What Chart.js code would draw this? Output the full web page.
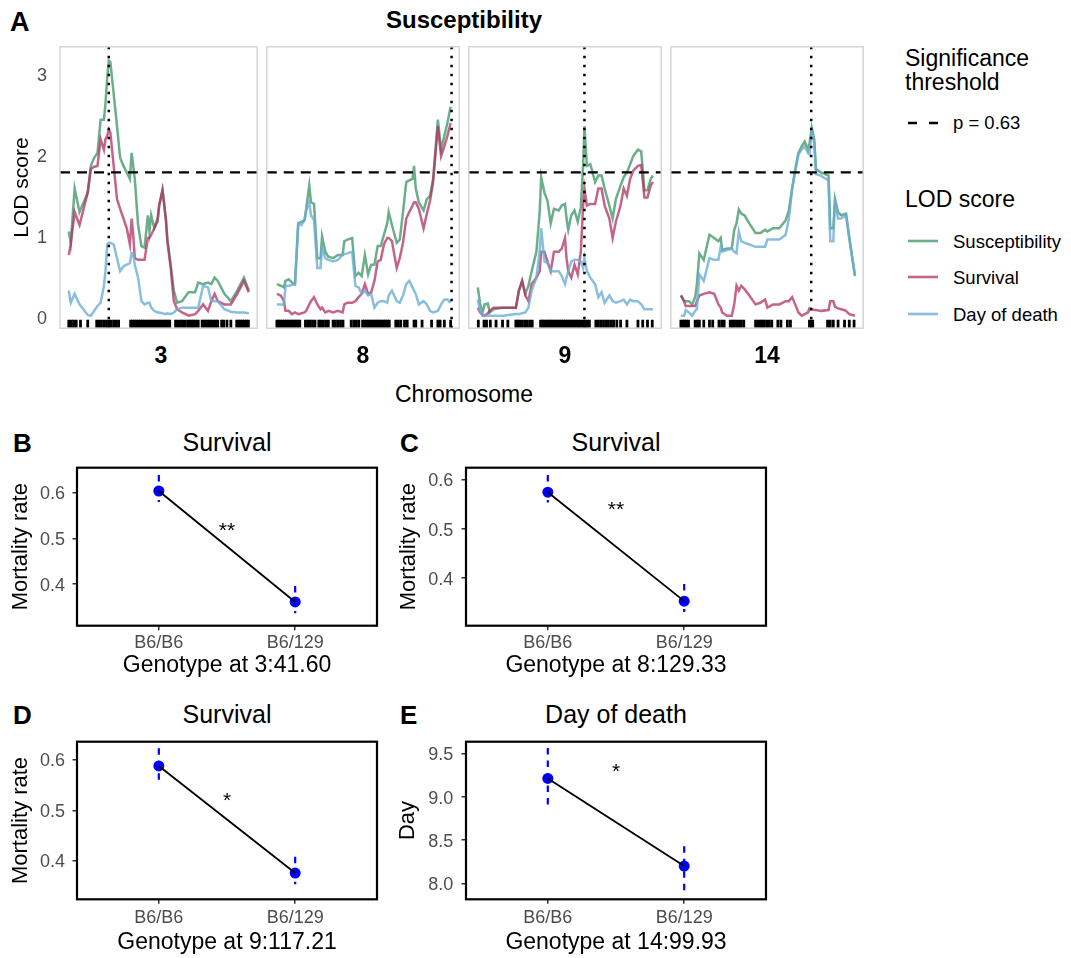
<!DOCTYPE html>
<html>
<head>
<meta charset="utf-8">
<script src="https://cdn.jsdelivr.net/npm/chart.js@4.4.1/dist/chart.umd.min.js"></script>
<style>
  body { margin: 0; background: #fff; }
  #fig { position: relative; width: 1071px; height: 958px; overflow: hidden;
         font-family: "Liberation Sans", Arial, Helvetica, sans-serif; color: #000; }
  #fig canvas { position: absolute; }
  .txt { position: absolute; white-space: nowrap; line-height: 1; }
  .key { position: absolute; }
</style>
</head>
<body>
<div id="fig"></div>
<script>
// ---- panel A: LOD profiles (position within chromosome, LOD) ----
const chromosomes = ['3', '8', '9', '14'];
const seriesNames = ['Susceptibility', 'Survival', 'Day of death'];
const threshold = 1.79;          // significance threshold, p = 0.63
const thresholdLabel = 'p = 0.63';
const peakPos = [20.5, 92.5, 56.2, 69.2];
const lodTicks = [0, 1, 2, 3];

const pos3  = [0,1,3,5.5,9.7,11.3,13,14.7,16.3,18,18.8,19.7,20.5,21.3,23,24.7,26.3,28,29.7,31.3,32.2,33,33.8,35.5,37.2,38.8,40.5,41.3,42.2,43.8,45.5,46.3,48,49.7,50.5,52.2,53.8,55.5,58,61.3,64.7,66.3,68.8,71.3,73,74.7,76.3,79.7,83,86.3,89.7,92.2];
const susc3 = [1.06,0.92,1.59,1.30,1.54,1.87,1.97,2.03,2.44,2.44,2.64,2.97,3.17,3.15,2.76,2.36,1.97,1.87,1.79,1.71,2.03,1.87,1.71,1.14,0.88,0.86,1.26,1.06,1.26,1.10,1.18,1.38,1.57,1.22,0.96,0.65,0.33,0.18,0.20,0.31,0.31,0.43,0.41,0.43,0.41,0.49,0.45,0.29,0.20,0.33,0.49,0.33];
const surv3 = [0.77,0.90,1.30,1.14,1.54,1.83,1.86,1.87,2.20,2.07,2.20,2.24,2.32,2.28,1.87,1.46,1.34,1.22,1.10,0.90,1.22,1.02,0.73,0.71,0.71,0.71,0.98,0.98,1.02,1.10,1.22,1.38,1.57,1.22,0.94,0.61,0.20,0.10,0.06,0.02,0.04,0.08,0.16,0.08,0.20,0.29,0.20,0.16,0.16,0.29,0.45,0.31];
const dod3  = [0.33,0.18,0.29,0.16,0.03,0.02,0.08,0.14,0.18,0.39,0.57,0.90,0.92,0.92,0.90,0.73,0.57,0.63,0.65,0.67,0.79,0.79,0.65,0.49,0.20,0.16,0.18,0.18,0.12,0.08,0.06,0.06,0.05,0.04,0.05,0.04,0.06,0.10,0.12,0.12,0.12,0.12,0.39,0.37,0.20,0.20,0.20,0.10,0.07,0.06,0.06,0.05];
const rug3  = [0,1.3,2.5,3.8,6,9.7,14.3,15.5,16.7,18,19.3,20.5,21.7,23,24.3,25.5,31.7,32.7,33.7,34.7,35.7,36.7,37.7,38.7,39.7,40.7,41.7,42.7,43.7,44.7,45.7,46.7,47.7,48.7,49.7,50.7,51.7,54.7,56,57.2,58.3,59.7,61,62,63,64,65,66.3,68.3,69.3,70.3,71.3,72.3,73.3,74.3,75.3,76.3,78.3,79.3,81,83,86,87,88,89,90,91,92];

const pos8  = [0.8,2.8,4.5,5.3,7,8.7,10.3,12,13.7,15.3,16.2,17.8,18.7,20.3,22,23.7,24.5,26.2,27.8,30.3,32.8,35.3,36.2,37.8,40.3,42,43.7,45.3,47,48.7,50.3,52,53.7,55.3,57,58.7,59.5,61.2,63.7,65.3,67,68.7,70.3,72,72.8,73.7,75.3,77.8,79.5,81.2,82.8,85.3,87,88.7,90.3,92];
const susc8 = [0.41,0.39,0.37,0.45,0.47,0.43,0.41,1.16,1.18,1.20,1.34,1.63,1.42,1.40,0.73,0.73,1.00,0.81,0.75,0.73,0.77,0.77,0.94,0.96,0.98,0.51,0.55,0.51,0.77,0.53,0.65,0.65,0.88,0.88,1.02,1.16,1.30,1.14,0.92,0.96,1.30,1.67,1.69,1.71,1.87,1.59,1.42,1.32,1.46,1.50,1.71,2.44,2.07,2.24,2.40,2.60];
const surv8 = [0.29,0.27,0.20,0.08,0.08,0.04,0.06,0.04,0.05,0.06,0.08,0.16,0.20,0.25,0.16,0.10,0.12,0.06,0.08,0.06,0.08,0.06,0.16,0.18,0.18,0.20,0.25,0.29,0.41,0.29,0.31,0.45,0.69,0.71,0.90,0.98,0.98,0.94,0.61,0.73,0.92,1.22,1.30,1.38,1.42,1.42,1.34,1.10,1.28,1.44,1.67,2.36,1.99,2.11,2.24,2.40];
const dod8  = [0.16,0.16,0.16,0.39,0.39,0.40,0.41,1.16,1.14,1.20,1.32,1.42,1.26,1.20,0.61,0.61,0.86,0.73,0.71,0.69,0.71,0.77,0.78,0.79,0.81,0.39,0.37,0.29,0.33,0.27,0.29,0.12,0.18,0.20,0.20,0.18,0.27,0.33,0.20,0.18,0.27,0.41,0.45,0.37,0.33,0.29,0.16,0.20,0.16,0.08,0.06,0.08,0.16,0.22,0.22,0.18];
const rug8  = [0.8,1.8,2.8,3.8,4.8,5.8,6.8,7.8,8.8,9.8,10.8,11.8,12.8,15.8,17,18.2,19.5,20.8,22.8,23.8,25.2,26.5,27.8,30.3,31.5,32.8,34.2,35.5,39.8,41.2,42.5,43.8,45.8,46.8,47.8,48.8,49.8,50.8,51.8,52.8,53.8,54.8,55.8,56.8,57.8,58.8,59.8,63.2,64.5,65.8,67.8,69.2,72.8,73.7,77,82,85.3,86.5,88.7,92];

const pos9  = [0.2,1.5,2.7,3.8,5.5,6.5,8.5,13.5,20.2,21.8,23.5,25.2,26.8,28.5,31,32.7,33.5,35.2,36.8,38.5,40.2,42.7,44.3,46,46.8,47.7,49.3,51,52.7,54.3,55.5,56.2,57.5,59.3,61.8,63.5,65.2,66.8,69.3,71,72.7,75.2,76.8,78.5,80.2,81.8,84.3,86,87.7,89.3,91,92.2];
const susc9 = [0.37,0.16,0.06,0.16,0.17,0.06,0.10,0.12,0.12,0.33,0.45,0.29,0.39,0.57,0.81,1.30,1.73,1.54,1.44,1.16,1.34,1.32,1.38,1.40,1.22,1.08,1.26,1.32,1.18,1.36,1.87,2.36,1.87,1.89,1.67,1.75,1.75,1.59,1.38,1.22,1.46,1.63,1.73,1.79,1.89,1.99,2.07,2.05,1.57,1.57,1.71,1.75];
const surv9 = [0.12,0.06,0.03,0.02,0.05,0.08,0.12,0.12,0.12,0.33,0.45,0.27,0.20,0.41,0.49,0.57,0.81,0.81,0.69,0.57,0.81,0.81,0.85,0.98,0.73,0.57,0.49,0.65,0.53,0.81,1.38,1.59,1.38,1.40,1.40,1.59,1.59,1.38,1.22,0.98,1.18,1.38,1.59,1.50,1.71,1.81,1.87,1.88,1.48,1.48,1.63,1.67];
const dod9  = [0.22,0.08,0.02,0.02,0.02,0.02,0.02,0.02,0.04,0.04,0.05,0.06,0.12,0.33,0.49,0.81,1.10,0.69,0.67,0.57,0.57,0.57,0.51,0.41,0.49,0.57,0.69,0.71,0.71,0.69,0.61,0.73,0.57,0.49,0.41,0.25,0.31,0.18,0.27,0.20,0.18,0.20,0.22,0.16,0.22,0.20,0.20,0.16,0.10,0.10,0.10,0.10];
const rug9  = [0.5,3.5,4.8,6.8,9.8,13.2,16,20.2,21.2,22.2,23.5,24.8,26.2,27.5,28.8,33.2,34.2,35.2,36.2,37.2,38.2,39.2,40.2,41.2,42.2,43.2,44.2,45.2,46.2,47.2,48.2,49.2,50.2,51.2,52.2,53.2,54.2,55.5,56.5,57.7,58.8,62.2,63.5,64.8,66.2,67.5,68.8,70.2,71.5,73.2,75.2,78.5,84.3,86.8,89.3,91.8];

const pos14  = [0.8,2.5,3.3,5,6.7,8.3,9.2,10.5,12.8,15.8,18.3,20.5,21.7,22.5,25,27.5,28.8,30,31.2,32.5,34.2,36.7,40,42.5,45,46.2,49.2,52.5,55.8,57.5,59.2,60.8,62.5,64.2,65.8,67.5,68.3,69.5,70.8,71.7,74.2,78.3,79.2,80.8,81.7,83.3,85,87.5,89.2,92.2];
const susc14 = [0.27,0.20,0.20,0.20,0.16,0.25,0.41,0.79,0.71,1.02,0.98,0.94,0.98,0.83,0.85,0.85,1.08,1.16,1.33,1.28,1.26,1.16,1.04,1.04,1.08,1.06,1.10,1.10,1.20,1.32,1.59,1.83,2.03,2.11,2.17,2.07,2.15,2.34,2.20,1.83,1.79,1.75,1.10,1.10,1.46,1.30,1.26,1.28,0.98,0.51];
const surv14 = [0.27,0.20,0.14,0.14,0.14,0.14,0.20,0.27,0.29,0.31,0.29,0.16,0.12,0.06,0.02,0.02,0.16,0.39,0.33,0.39,0.35,0.27,0.16,0.18,0.22,0.12,0.16,0.16,0.20,0.20,0.25,0.16,0.06,0.02,0.04,0.06,0.11,0.10,0.09,0.09,0.08,0.09,0.20,0.20,0.13,0.11,0.10,0.08,0.04,0.02];
const dod14  = [0.02,0.02,0.09,0.06,0.02,0.08,0.10,0.53,0.45,0.73,0.71,0.71,0.87,0.81,0.83,0.85,0.81,0.79,1.06,0.94,0.92,0.90,0.87,0.87,0.87,0.96,0.96,0.96,1.02,1.22,1.59,1.79,2.01,2.07,2.11,2.03,2.01,2.30,2.15,1.77,1.75,1.69,0.94,0.94,1.46,1.22,1.22,1.26,0.98,0.51];
const rug14  = [0.8,1.8,2.8,3.8,4.8,8.3,9.5,10.5,12.8,15.8,17.5,20.8,22.2,23.5,26.7,27.8,28.8,30,31.2,32.5,33.8,40,41.2,42.5,43.5,44.5,45.8,47.2,48.5,51.7,53.3,56.7,58.3,68.3,69.2,70,77.8,79.2,80.8,83.3,86.7,89.2,91.7];

// ---- panels B-E: genotype effects ----
const genotypes = ['B6/B6', 'B6/129'];
const meanB = [0.604, 0.361], upperB = [0.639, 0.396], lowerB = [0.580, 0.336];
const meanC = [0.575, 0.353], upperC = [0.610, 0.388], lowerC = [0.554, 0.331];
const meanD = [0.588, 0.376], upperD = [0.623, 0.408], lowerD = [0.551, 0.354];
const meanE = [9.217, 8.20],  upperE = [9.57, 8.43],   lowerE = [8.87, 7.90];
const rateTicks = [0.4, 0.5, 0.6];
const dayTicks = [8.0, 8.5, 9.0, 9.5];

const FONT = '"Liberation Sans", Arial, Helvetica, sans-serif';
const COLORS = ['rgba(46,139,87,0.7)', 'rgba(176,48,96,0.75)', 'rgba(107,174,214,0.8)'];
const TICK_GREY = '#4d4d4d';
Chart.defaults.font.family = FONT;
Chart.defaults.color = TICK_GREY;

const fig = document.getElementById('fig');

function addText(str, x, baseline, size, opt = {}) {
  const el = document.createElement('div');
  el.className = 'txt';
  el.textContent = str;
  el.style.fontSize = size + 'px';
  el.style.fontWeight = opt.bold ? 'bold' : 'normal';
  el.style.top = (baseline - 0.8465 * size) + 'px';
  el.style.left = x + 'px';
  if (opt.center) el.style.transform = 'translateX(-50%)';
  fig.appendChild(el);
}

function addCanvas(left, top, w, h) {
  const c = document.createElement('canvas');
  c.width = w; c.height = h;
  c.style.left = left + 'px'; c.style.top = top + 'px';
  c.style.width = w + 'px'; c.style.height = h + 'px';
  fig.appendChild(c);
  return c;
}

function addKey(x1, x2, y, color, dash) {
  const ns = 'http://www.w3.org/2000/svg';
  const svg = document.createElementNS(ns, 'svg');
  svg.setAttribute('class', 'key');
  svg.setAttribute('width', x2 - x1);
  svg.setAttribute('height', 6);
  svg.style.left = x1 + 'px';
  svg.style.top = (y - 3) + 'px';
  const ln = document.createElementNS(ns, 'line');
  ln.setAttribute('x1', 0); ln.setAttribute('x2', x2 - x1);
  ln.setAttribute('y1', 3); ln.setAttribute('y2', 3);
  ln.setAttribute('stroke', color);
  ln.setAttribute('stroke-width', 2.6);
  if (dash) ln.setAttribute('stroke-dasharray', dash);
  svg.appendChild(ln);
  fig.appendChild(svg);
}

// fixed axis size, no extra room for overhanging labels
function fixSize(prop, size) {
  return s => {
    s[prop] = size;
    s.paddingTop = 0; s.paddingBottom = 0; s.paddingLeft = 0; s.paddingRight = 0;
  };
}

// panel outline
const panelBox = {
  id: 'panelBox',
  afterDraw(chart, args, opts) {
    const { ctx, chartArea: a } = chart;
    ctx.save();
    ctx.strokeStyle = opts.color;
    ctx.lineWidth = opts.width;
    ctx.strokeRect(a.left, a.top, a.right - a.left, a.bottom - a.top);
    ctx.restore();
  }
};

// threshold (dashed) and peak marker (dotted)
const refLines = {
  id: 'refLines',
  afterDatasetsDraw(chart, args, opts) {
    const { ctx, chartArea: a, scales: { x, y } } = chart;
    ctx.save();
    ctx.strokeStyle = '#000';
    ctx.lineWidth = 2.2;
    ctx.setLineDash([10, 7]);
    const ty = y.getPixelForValue(opts.threshold);
    ctx.beginPath(); ctx.moveTo(a.left, ty); ctx.lineTo(a.right, ty); ctx.stroke();
    ctx.lineWidth = 2.5;
    ctx.setLineDash([2.5, 6.5]);
    const px = x.getPixelForValue(opts.peak);
    ctx.beginPath(); ctx.moveTo(px, a.top); ctx.lineTo(px, a.bottom); ctx.stroke();
    ctx.restore();
  }
};

// significance stars
const sigLabel = {
  id: 'sigLabel',
  afterDatasetsDraw(chart, args, opts) {
    const { ctx, scales: { x, y } } = chart;
    ctx.save();
    ctx.fillStyle = '#000';
    ctx.font = '21px ' + FONT;
    ctx.textAlign = 'center';
    ctx.textBaseline = 'middle';
    ctx.fillText(opts.text, x.getPixelForValue(opts.x), y.getPixelForValue(opts.y));
    ctx.restore();
  }
};

const xy = (xs, ys) => xs.map((x, i) => ({ x, y: ys[i] }));

// ---------- panel A ----------
const facets = [
  { pos: pos3, lod: [susc3, surv3, dod3], rug: rug3 },
  { pos: pos8, lod: [susc8, surv8, dod8], rug: rug8 },
  { pos: pos9, lod: [susc9, surv9, dod9], rug: rug9 },
  { pos: pos14, lod: [susc14, surv14, dod14], rug: rug14 }
];
const FACET_W = 202, FACET_X0 = 60;

facets.forEach((f, i) => {
  const first = i === 0;
  const left = first ? 0 : FACET_X0 + FACET_W * i - 2;
  const width = first ? FACET_X0 + FACET_W + 2 : FACET_W + 4;
  const canvas = addCanvas(left, 40, width, 295);

  const datasets = [2, 1, 0].map(k => ({
    label: seriesNames[k],
    data: xy(f.pos, f.lod[k]),
    borderColor: COLORS[k],
    borderWidth: 2.5,
    pointRadius: 0,
    tension: 0
  }));
  datasets.push({
    label: 'markers',
    data: f.rug.map(x => ({ x, y: -0.08 })),
    showLine: false,
    pointStyle: 'line',
    pointRotation: 90,
    pointRadius: 4,
    pointBorderWidth: 2.8,
    pointBorderColor: '#000'
  });

  const yScale = {
    min: -0.134, max: 3.34, display: first,
    afterBuildTicks: s => { s.ticks = lodTicks.map(v => ({ value: v })); },
    ticks: { color: TICK_GREY, font: { size: 18 }, padding: 13, labelOffset: 2, callback: v => String(v) },
    grid: { display: false, drawTicks: false },
    border: { display: false },
    title: { display: true, text: 'LOD score', color: '#000', font: { size: 21 }, padding: { top: 9.4, bottom: 0 } }
  };
  if (first) yScale.afterFit = fixSize('width', FACET_X0);

  new Chart(canvas, {
    type: 'line',
    data: { datasets },
    options: {
      animation: false, responsive: false, maintainAspectRatio: false, devicePixelRatio: 1,
      events: [],
      layout: { padding: { left: first ? 0 : 2, right: 2, top: 6, bottom: 4 } },
      plugins: {
        legend: { display: false }, tooltip: { enabled: false },
        refLines: { threshold, peak: peakPos[i] },
        panelBox: { color: '#d6d6d6', width: 1.5 }
      },
      scales: {
        x: { type: 'linear', min: -4.5, max: 96.5, display: false },
        y: yScale
      }
    },
    plugins: [refLines, panelBox]
  });
  addText(chromosomes[i], FACET_X0 + FACET_W * i + FACET_W / 2, 363.3, 23, { bold: true, center: true });
});

addText('A', 10, 31.5, 27, { bold: true });
addText('Susceptibility', 464, 28.3, 24, { bold: true, center: true });
addText('Chromosome', 464, 402.7, 23, { center: true });

// legend
addText('Significance', 905, 66.7, 23);
addText('threshold', 905, 90, 23);
addKey(908, 938, 123.3, '#000', '9 12');
addText(thresholdLabel, 953, 130, 18.5);
addText('LOD score', 905, 207.7, 23);
[240.7, 277.3, 314.3].forEach((y, k) => {
  addKey(908, 938, y, COLORS[k]);
  addText(seriesNames[k], 953, y + 7.5, 18.5);
});

// ---------- panels B-E ----------
function effectPanel(p) {
  const canvas = addCanvas(p.left, p.top, 390, p.height);
  const pts = xy([1, 2], p.mean);
  const datasets = [
    { data: pts, borderColor: '#000', borderWidth: 1.8, pointRadius: 0 },
    { data: pts, showLine: false, pointRadius: 5.5, pointBackgroundColor: '#0000ff', pointBorderWidth: 0 }
  ];
  p.mean.forEach((m, i) => {
    datasets.push({
      data: [{ x: i + 1, y: p.upper[i] }, { x: i + 1, y: p.lower[i] }],
      borderColor: '#0000ff', borderWidth: 2.2, borderDash: [6.5, 6], pointRadius: 0
    });
  });
  const tickGrid = { display: true, drawOnChartArea: false, drawTicks: true, tickLength: 4.5, color: '#333', lineWidth: 1.5 };
  new Chart(canvas, {
    type: 'line',
    data: { datasets },
    options: {
      animation: false, responsive: false, maintainAspectRatio: false, devicePixelRatio: 1,
      events: [],
      layout: { padding: { left: 0, right: p.padRight, top: p.padTop, bottom: 0 } },
      plugins: {
        legend: { display: false }, tooltip: { enabled: false },
        panelBox: { color: '#000', width: 2.2 },
        sigLabel: { text: p.sig, x: 1.5, y: p.sigY }
      },
      scales: {
        x: {
          type: 'linear', min: 0.4, max: 2.6,
          afterBuildTicks: s => { s.ticks = genotypes.map((g, i) => ({ value: i + 1 })); },
          afterFit: fixSize('height', p.xAxisH),
          ticks: { color: TICK_GREY, font: { size: 18 }, padding: p.xTickPad, maxRotation: 0, autoSkip: false,
                   callback: v => genotypes[v - 1] },
          grid: tickGrid,
          border: { display: false },
          title: { display: true, text: p.xTitle, color: '#000', font: { size: 23 }, padding: { top: 0, bottom: p.xTitlePad } }
        },
        y: {
          min: p.yMin, max: p.yMax,
          afterBuildTicks: s => { s.ticks = p.yTicks.map(v => ({ value: v })); },
          afterFit: fixSize('width', p.yAxisW),
          ticks: { color: TICK_GREY, font: { size: 18 }, padding: p.yTickPad, labelOffset: 1.5, callback: v => v.toFixed(1) },
          grid: tickGrid,
          border: { display: false },
          title: { display: true, text: p.yTitle, color: '#000', font: { size: 22 }, padding: { top: p.yTitlePad, bottom: 0 } }
        }
      }
    },
    plugins: [panelBox, sigLabel]
  });
  addText(p.letter, p.letterX, p.titleBase + 1, 26, { bold: true });
  addText(p.title, p.left + p.yAxisW + 150, p.titleBase, 25, { center: true });
}

effectPanel({ letter: 'B', letterX: 13, title: 'Survival', titleBase: 450.7,
  left: 0, top: 460, height: 222, padTop: 7.7, padRight: 13, yAxisW: 77, xAxisH: 56.3,
  xTickPad: 2.3, xTitlePad: 2.2, yTickPad: 7.5, yTitlePad: 7.3,
  mean: meanB, upper: upperB, lower: lowerB, yMin: 0.309, yMax: 0.655, yTicks: rateTicks,
  yTitle: 'Mortality rate', xTitle: 'Genotype at 3:41.60', sig: '**', sigY: 0.517 });

effectPanel({ letter: 'C', letterX: 400, title: 'Survival', titleBase: 450.7,
  left: 390, top: 460, height: 222, padTop: 7.7, padRight: 14, yAxisW: 76, xAxisH: 56.3,
  xTickPad: 2.3, xTitlePad: 2.2, yTickPad: 8.2, yTitlePad: 6,
  mean: meanC, upper: upperC, lower: lowerC, yMin: 0.303, yMax: 0.625, yTicks: rateTicks,
  yTitle: 'Mortality rate', xTitle: 'Genotype at 8:129.33', sig: '**', sigY: 0.539 });

effectPanel({ letter: 'D', letterX: 13, title: 'Survival', titleBase: 723.3,
  left: 0, top: 730, height: 228, padTop: 11.7, padRight: 13, yAxisW: 77, xAxisH: 58.7,
  xTickPad: 3.7, xTitlePad: 1.7, yTickPad: 7.5, yTitlePad: 7.3,
  mean: meanD, upper: upperD, lower: lowerD, yMin: 0.324, yMax: 0.636, yTicks: rateTicks,
  yTitle: 'Mortality rate', xTitle: 'Genotype at 9:117.21', sig: '*', sigY: 0.519 });

effectPanel({ letter: 'E', letterX: 400, title: 'Day of death', titleBase: 723.3,
  left: 390, top: 730, height: 228, padTop: 11.7, padRight: 14, yAxisW: 76, xAxisH: 58.7,
  xTickPad: 3.7, xTitlePad: 1.7, yTickPad: 8.2, yTitlePad: 4.3,
  mean: meanE, upper: upperE, lower: lowerE, yMin: 7.814, yMax: 9.643, yTicks: dayTicks,
  yTitle: 'Day', xTitle: 'Genotype at 14:99.93', sig: '*', sigY: 9.285 });
</script>
</body>
</html>
